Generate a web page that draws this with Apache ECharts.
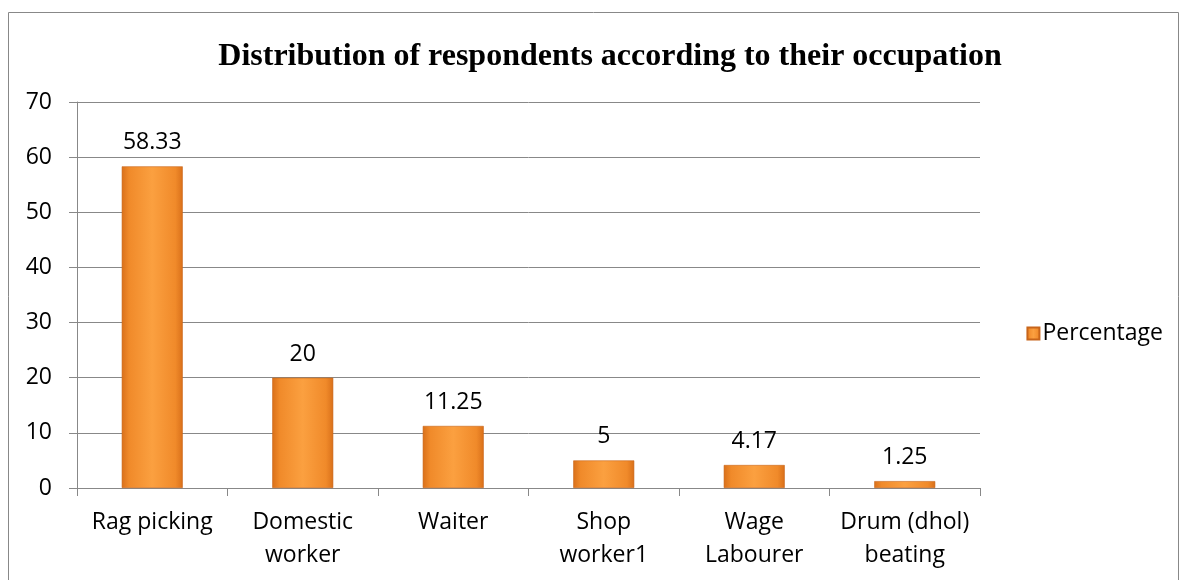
<!DOCTYPE html>
<html>
<head>
<meta charset="utf-8">
<script src="https://cdn.jsdelivr.net/npm/echarts@6/dist/echarts.min.js"></script>
<style>
html,body{margin:0;padding:0;background:#fff;}
#chart{width:1181px;height:580px;}
</style>
</head>
<body>
<div id="chart"></div>
<script>
// Occupation categories and share of respondents (%)
const categories = ['Rag picking', 'Domestic\nworker', 'Waiter', 'Shop\nworker1', 'Wage\nLabourer', 'Drum (dhol)\nbeating'];
const percentage = [58.33, 20, 11.25, 5, 4.17, 1.25];
const yTicks = [0, 10, 20, 30, 40, 50, 60, 70];

const barFill = new echarts.graphic.LinearGradient(0, 0, 1, 0, [
  { offset: 0, color: '#d9701a' },
  { offset: 0.12, color: '#f08a2a' },
  { offset: 0.5, color: '#fba040' },
  { offset: 0.88, color: '#f08a2a' },
  { offset: 1, color: '#d9701a' }
]);

const chart = echarts.init(document.getElementById('chart'));
chart.setOption({
  animation: false,
  title: {
    text: 'Distribution of respondents according to their occupation',
    left: 605, top: 36, textAlign: 'center',
    textStyle: { fontFamily: 'Liberation Serif', fontWeight: 'bold', fontSize: 32, color: '#000' }
  },
  graphic: [{
    type: 'rect', shape: { x: 8.5, y: 12.5, width: 1170, height: 600 },
    style: { fill: 'none', stroke: '#888', lineWidth: 1 }, silent: true
  }],
  legend: {
    data: ['Percentage'], right: 13, top: 317, orient: 'vertical',
    itemWidth: 12, itemHeight: 12, itemGap: 4,
    textStyle: { fontFamily: 'Open Sans', fontSize: 23, color: '#000', padding: [0, 0, 0, -2] },
    icon: 'rect'
  },
  grid: { left: 77, right: 201, top: 102, bottom: 92, containLabel: false },
  xAxis: {
    type: 'category', data: categories,
    axisLine: { lineStyle: { color: '#888' } },
    axisTick: { show: true, length: 8, lineStyle: { color: '#888' } },
    axisLabel: {
      interval: 0, hideOverlap: false,
      fontFamily: 'Open Sans', fontSize: 23, color: '#000', margin: 18, lineHeight: 33
    }
  },
  yAxis: {
    type: 'value', min: 0, max: 70, interval: 10,
    axisLine: { show: true, lineStyle: { color: '#888' } },
    axisTick: { show: true, length: 8, lineStyle: { color: '#888' } },
    splitLine: { lineStyle: { color: '#888' } },
    axisLabel: {
      fontFamily: 'Open Sans', fontSize: 23, color: '#000', margin: 25,
      formatter: v => yTicks.includes(v) ? String(v) : ''
    }
  },
  series: [{
    name: 'Percentage', type: 'bar', data: percentage,
    barWidth: 61,
    itemStyle: { color: barFill, borderColor: '#c8651a', borderWidth: 0.6 },
    label: {
      show: true, position: 'top', distance: 12,
      fontFamily: 'Open Sans', fontSize: 23, color: '#000'
    }
  }]
});
</script>
</body>
</html>
